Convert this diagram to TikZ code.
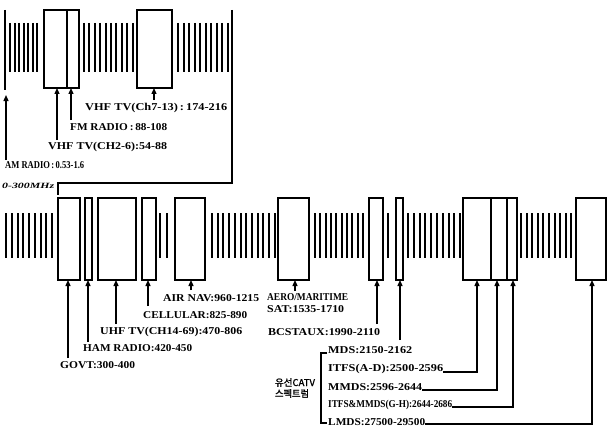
\documentclass[tikz,border=0pt]{standalone}
\usepackage{fontspec}
\usepackage{graphicx}
\setmainfont{Liberation Serif}
\newfontfamily\krfont[FakeBold=1.5]{Noto Sans CJK KR}
\usetikzlibrary{arrows.meta}
\newcommand\fitlbl[2]{\resizebox{#1pt}{\height}{#2}}
\tikzset{
  bandbox/.style={draw, line width=1.4pt, inner sep=0pt, outer sep=0pt, anchor=north west},
  hatch/.style={line width=2pt},
  frame/.style={line width=1.5pt},
  arr/.style={line width=1.3pt, -{Triangle[length=6pt,width=5pt]}},
  lbl/.style={anchor=west, inner sep=0pt, font=\bfseries\fontsize{10.5}{10.5}\selectfont},
}
\begin{document}
\begin{tikzpicture}[x=1pt,y=-1pt]
\useasboundingbox (0,0) rectangle (608,428);
% ---------- top band ----------
\foreach \x in {10,14.5,...,37.5} \draw[hatch] (\x,23) -- (\x,72);
\foreach \x in {84,89.4,...,133} \draw[hatch] (\x,23) -- (\x,72);
\foreach \x in {178,183.5,...,228} \draw[hatch] (\x,23) -- (\x,72);
\node[bandbox, minimum width=23pt, minimum height=78pt] (vhf1) at (44,10) {};
\node[bandbox, minimum width=12pt, minimum height=78pt] (fm) at (67,10) {};
\node[bandbox, minimum width=35pt, minimum height=78pt] (vhf2) at (137,10) {};
\coordinate (ltop) at (5,10); \coordinate (lbot) at (5,90);
\draw[frame] (ltop) -- (lbot);
\coordinate (rtop) at (232,10); \coordinate (rbend) at (232,183);
\coordinate (lbend) at (58,183); \coordinate (hook) at (58,195);
\draw[frame] (rtop) -- (rbend) -- (lbend) -- (hook);
% top labels
\node[lbl] (l713) at (85,108) {\fitlbl{142}{VHF TV(Ch7-13)\,:\,174-216}};
\node[lbl] (lfm) at (70,127) {\fitlbl{97}{FM RADIO\,:\,88-108}};
\node[lbl] (l26) at (48,147) {\fitlbl{119}{VHF TV(CH2-6):54-88}};
\node[lbl] (lam) at (5,165) {\fitlbl{79}{AM RADIO\,:\,0.53-1.6}};
\node[lbl, font=\bfseries\itshape\fontsize{8}{8}\selectfont] (l300) at (2,186) {\fitlbl{52}{0-300MHz}};
% top arrows
\coordinate (amt) at (6,160); \coordinate (amh) at (6,95);
\draw[arr] (amt) -- (amh);
\coordinate (a26) at (57,140); \draw[arr] (a26) -- (a26 |- vhf1.south);
\coordinate (afm) at (71,120); \draw[arr] (afm) -- (afm |- fm.south);
\coordinate (a713) at (154,100); \draw[arr] (a713) -- (a713 |- vhf2.south);
% ---------- lower band ----------
\foreach \x in {6,11.75,...,53} \draw[hatch] (\x,213) -- (\x,258);
\foreach \x in {160,167} \draw[hatch] (\x,213) -- (\x,258);
\foreach \x in {212,217.7,...,276} \draw[hatch] (\x,213) -- (\x,258);
\foreach \x in {315,320.33,...,364} \draw[hatch] (\x,213) -- (\x,258);
\draw[hatch] (388,213) -- (388,258);
\foreach \x in {408,413.8,...,461} \draw[hatch] (\x,213) -- (\x,258);
\foreach \x in {521,526.6,...,572} \draw[hatch] (\x,213) -- (\x,258);
\node[bandbox, minimum width=22pt, minimum height=82pt] (govt) at (58,198) {};
\node[bandbox, minimum width=7pt, minimum height=82pt] (ham) at (85,198) {};
\node[bandbox, minimum width=38pt, minimum height=82pt] (uhf) at (98,198) {};
\node[bandbox, minimum width=14pt, minimum height=82pt] (cell) at (142,198) {};
\node[bandbox, minimum width=30pt, minimum height=82pt] (air) at (175,198) {};
\node[bandbox, minimum width=31pt, minimum height=82pt] (aero) at (278,198) {};
\node[bandbox, minimum width=14pt, minimum height=82pt] (bcst) at (369,198) {};
\node[bandbox, minimum width=7pt, minimum height=82pt] (mds) at (396,198) {};
\node[bandbox, minimum width=28pt, minimum height=82pt] (itfs) at (463,198) {};
\node[bandbox, minimum width=16pt, minimum height=82pt] (mmds) at (491,198) {};
\node[bandbox, minimum width=10pt, minimum height=82pt] (gh) at (507,198) {};
\node[bandbox, minimum width=30pt, minimum height=82pt] (lmds) at (576,198) {};
% lower labels
\node[lbl] (lgovt) at (60,365) {\fitlbl{75}{GOVT:300-400}};
\node[lbl] (lham) at (83,348) {\fitlbl{109}{HAM RADIO:420-450}};
\node[lbl] (luhf) at (100,332) {\fitlbl{142}{UHF TV(CH14-69):470-806}};
\node[lbl] (lcell) at (143,315) {\fitlbl{104}{CELLULAR:825-890}};
\node[lbl] (lair) at (163,298) {\fitlbl{96}{AIR NAV:960-1215}};
\node[lbl] (laero) at (267,297) {\fitlbl{81}{AERO/MARITIME}};
\node[lbl] (lsat) at (267,309) {\fitlbl{77}{SAT:1535-1710}};
\node[lbl] (lbcst) at (268,332) {\fitlbl{112}{BCSTAUX:1990-2110}};
\node[lbl] (lmdsl) at (328,350) {\fitlbl{84}{MDS:2150-2162}};
\node[lbl] (litfs) at (328,369) {\fitlbl{115}{ITFS(A-D):2500-2596}};
\node[lbl] (lmmds) at (328,387) {\fitlbl{94}{MMDS:2596-2644}};
\node[lbl] (lgh) at (328,405) {\fitlbl{124}{ITFS\&MMDS(G-H):2644-2686}};
\node[lbl] (llmds) at (328,422) {\fitlbl{97}{LMDS:27500-29500}};
\node[inner sep=0pt, align=left, font=\krfont\fontsize{9.5}{11}\selectfont] (lkr) at (295,388) {\fitlbl{40}{유선CATV}\\\fitlbl{34}{스펙트럼}};
% bracket
\coordinate (bk1) at (327,353); \coordinate (bk2) at (321,353);
\coordinate (bk3) at (321,423); \coordinate (bk4) at (327,423);
\draw[line width=1.2pt] (bk1) -- (bk2) -- (bk3) -- (bk4);
% lower arrows
\coordinate (agovt) at (68,358); \draw[arr] (agovt) -- (agovt |- govt.south);
\coordinate (aham) at (88,342); \draw[arr] (aham) -- (aham |- ham.south);
\coordinate (auhf) at (116,324); \draw[arr] (auhf) -- (auhf |- uhf.south);
\coordinate (acell) at (148,306); \draw[arr] (acell) -- (acell |- cell.south);
\coordinate (aair) at (191,290); \draw[arr] (aair) -- (aair |- air.south);
\coordinate (aaero) at (295,291); \draw[arr] (aaero) -- (aaero |- aero.south);
\coordinate (abcst) at (377,324); \draw[arr] (abcst) -- (abcst |- bcst.south);
\coordinate (amds) at (400,340); \draw[arr] (amds) -- (amds |- mds.south);
\coordinate (aitfs) at (477,372); \draw[arr] (litfs.east |- aitfs) -- (aitfs) -- (aitfs |- itfs.south);
\coordinate (ammds) at (497,390); \draw[arr] (lmmds.east |- ammds) -- (ammds) -- (ammds |- mmds.south);
\coordinate (agh) at (513,407); \draw[arr] (lgh.east |- agh) -- (agh) -- (agh |- gh.south);
\coordinate (almds) at (592,424); \draw[arr] (llmds.east |- almds) -- (almds) -- (almds |- lmds.south);
\end{tikzpicture}
\end{document}
